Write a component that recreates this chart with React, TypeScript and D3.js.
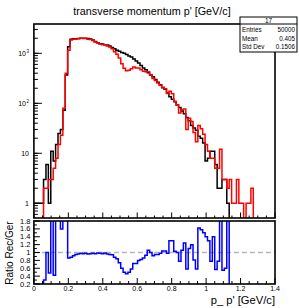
import * as d3 from 'd3';

const BIN_WIDTH = 0.014;

// generated (black) and reconstructed (red) p' spectra, 100 bins on [0, 1.4]
const gerCounts = [
  1, 1, 1, 1, 3, 6, 1, 11, 7, 15, 25, 30, 73, 370, 1350,
  1900, 1950, 1960, 1980, 1990, 2000, 2000, 1980, 1930, 1850, 1720, 1620, 1560, 1530, 1490,
  1460, 1400, 1310, 1230, 1150, 1100, 1040, 1000, 950, 880, 840, 770, 700, 640, 570,
  510, 470, 410, 370, 340, 300, 265, 235, 205, 190, 160, 135, 120, 108, 92,
  82, 70, 62, 52, 45, 36, 32, 29, 22, 20, 16, 7, 8, 11, 11,
  6, 2, 2, 3, 3, 1,
  0, 0, 0, 0, 0, 0, 0, 0, 0, 0, 0, 0, 0, 0, 0, 0, 0, 0, 0,
];

const recCounts = [
  0, 0, 0, 0, 2, 2, 3, 3, 5, 8, 15, 23, 80, 400, 1150,
  1850, 1900, 1930, 1950, 1990, 1980, 1980, 1900, 1880, 1800, 1680, 1600, 1530, 1480, 1480,
  1400, 1330, 1230, 1080, 960, 810, 620, 500, 450, 460, 490, 530, 510, 510, 470,
  440, 430, 430, 370, 315, 285, 255, 230, 210, 195, 157, 175, 155, 110, 92,
  64, 74, 77, 30, 50, 43, 26, 17, 36, 31, 24, 15, 11, 8, 8,
  5, 5, 12, 3, 3, 2, 3, 1, 1, 3, 1, 1, 0, 1, 1, 2,
  0, 0, 0, 0, 0, 0, 0, 0, 0,
];

// Rec/Ger ratio as drawn in the lower pad
const ratioValues = [
  0, 0, 0, 0, 0.3, 1.0, 0.48, 2.5, 0.42, 2.5, 2.5, 1.6, 2.5, 2.5,
  0.86, 0.88, 0.92, 0.95, 0.96, 0.98, 0.97, 0.98, 0.96, 0.97, 0.98, 0.97, 0.99, 0.98, 0.97, 0.99,
  0.96, 0.95, 0.94, 0.88, 0.84, 0.74, 0.6, 0.5, 0.46, 0.5, 0.58, 0.72, 0.72, 0.8, 0.82, 0.86, 0.93,
  1.06, 1.0, 0.92, 0.95, 0.95, 0.98, 1.04, 1.04, 0.98, 1.3, 1.3, 1.03, 1.0, 0.78, 1.06, 1.24, 0.58, 1.1, 1.2, 0.81, 0.58,
  1.62, 1.58, 1.5, 1.4, 1.3, 0.78, 1.4, 0.57, 0.78, 2.5, 0.55, 0.6, 2.5,
  0, 0, 0, 0, 0, 0, 0, 0, 0, 0, 0, 0, 0, 0, 0, 0, 0, 0, 0,
];

const xTicks = [0, 0.2, 0.4, 0.6, 0.8, 1, 1.2, 1.4];
const xTickLabels = ['0', '0.2', '0.4', '0.6', '0.8', '1', '1.2', '1.4'];
const logDecades = [1, 10, 100, 1000];
const logBases = ['1', '10', '10', '10'];
const logExps = ['', '', '2', '3'];
const ratioTicks = [0.2, 0.4, 0.6, 0.8, 1, 1.2, 1.4, 1.6, 1.8];
const ratioTickLabels = ['0.2', '0.4', '0.6', '0.8', '1', '1.2', '1.4', '1.6', '1.8'];
const statNames = ['Entries', 'Mean', 'Std Dev'];
const statValues = ['50000', '0.405', '0.1506'];

const FONT = 'Liberation Sans, Arial, sans-serif';

export default function App() {
  const left = 33.9;
  const right = 275;
  const x = d3.scaleLinear().domain([0, 1.4]).range([left, right]);
  const yLog = d3.scaleLog().domain([0.508, 3855]).range([218, 24]);
  const yRatio = d3.scaleLinear().domain([0.2, 1.8]).range([284, 221]);

  const line = d3.line();
  const stepPath = (vals: number[], yFn: (v: number) => number) => {
    const pts: [number, number][] = [];
    vals.forEach((v, i) => {
      const y = yFn(v);
      pts.push([x(i * BIN_WIDTH), y], [x((i + 1) * BIN_WIDTH), y]);
    });
    return line(pts);
  };
  const logY = (v: number) => (v > 0 ? yLog(v) : 235);
  const ratioY = (v: number) => (v > 0 ? yRatio(Math.min(v, 2.3)) : 295);

  const isMajor = (t: number) => Math.abs(t / 0.2 - Math.round(t / 0.2)) < 0.01;
  const xMinor = d3.range(0, 1.4001, 0.05);
  const logMinor = yLog.ticks().filter(t => t >= 0.508 && t <= 3855);
  const ratioMinor = d3.range(0.2, 1.8001, 0.1);

  return (
    <svg
      width={299}
      height={308}
      style={{ position: 'absolute', left: 0, top: 0, background: '#fff' }}
      fontFamily={FONT}
    >
      <defs>
        <clipPath id="clipTop">
          <rect x={left} y={24} width={right - left} height={194} />
        </clipPath>
        <clipPath id="clipLow">
          <rect x={left} y={221} width={right - left} height={63} />
        </clipPath>
      </defs>

      <text x={152} y={15} textAnchor="middle" fontSize={10.8} fill="#000">
        transverse momentum p' [GeV/c]
      </text>

      {/* upper pad */}
      <g clipPath="url(#clipTop)" fill="none" strokeWidth={1.5}>
        <path d={stepPath(gerCounts, logY)} stroke="#000" />
        <path d={stepPath(recCounts, logY)} stroke="#f00" />
      </g>
      <g stroke="#000" strokeWidth={1}>
        {xMinor.map((t, i) => (
          <line key={'xm' + i} x1={x(t)} x2={x(t)} y1={218} y2={isMajor(t) ? 212.5 : 215.5} />
        ))}
        {logMinor.map((t, i) => (
          <line key={'lm' + i} x1={left} x2={left + 4} y1={yLog(t)} y2={yLog(t)} />
        ))}
        {logDecades.map((t, i) => (
          <line key={'ld' + i} x1={left} x2={left + 8} y1={yLog(t)} y2={yLog(t)} />
        ))}
      </g>
      {logDecades.map((t, i) => (
        <text key={'ll' + i} x={logExps[i] ? 26 : 29} y={yLog(t) + 2.5} textAnchor="end" fontSize={7} fill="#000">
          {logBases[i]}
          {logExps[i] && (
            <tspan x={29} dy={-3} fontSize={4.5} textAnchor="end">{logExps[i]}</tspan>
          )}
        </text>
      ))}
      {xTicks.map((t, i) => (
        <text key={'tx' + i} x={x(t)} y={220.5} textAnchor="middle" fontSize={2.5} fill="#888">
          {xTickLabels[i]}
        </text>
      ))}
      <rect x={left} y={24} width={right - left} height={194} fill="none" stroke="#000" strokeWidth={1.6} />

      {/* stats box */}
      <rect x={240} y={17} width={57} height={35} fill="#fff" stroke="#000" strokeWidth={1} />
      <line x1={240} x2={297} y1={24} y2={24} stroke="#000" strokeWidth={1} />
      <text x={268.5} y={23} textAnchor="middle" fontSize={6.5}>17</text>
      {statNames.map((s, i) => (
        <g key={'st' + i} fontSize={6.3}>
          <text x={242} y={32 + i * 8.5}>{s}</text>
          <text x={295} y={32 + i * 8.5} textAnchor="end">{statValues[i]}</text>
        </g>
      ))}

      {/* lower pad */}
      <line
        x1={left}
        x2={right}
        y1={yRatio(1)}
        y2={yRatio(1)}
        stroke="#b4b4b4"
        strokeWidth={1.5}
        strokeDasharray="5,3"
      />
      <g clipPath="url(#clipLow)" fill="none" strokeWidth={1.5}>
        <path d={stepPath(ratioValues, ratioY)} stroke="#00f" />
      </g>
      <g stroke="#000" strokeWidth={1}>
        {xMinor.map((t, i) => (
          <line key={'lx' + i} x1={x(t)} x2={x(t)} y1={284} y2={isMajor(t) ? 278 : 281} />
        ))}
        {ratioMinor.map((t, i) => (
          <line key={'ry' + i} x1={left} x2={left + (i % 2 === 0 ? 6 : 3)} y1={yRatio(t)} y2={yRatio(t)} />
        ))}
      </g>
      {ratioTicks.map((t, i) => (
        <text key={'rl' + i} x={30.5} y={yRatio(t) + 2.6} textAnchor="end" fontSize={7.5}>
          {ratioTickLabels[i]}
        </text>
      ))}
      {xTicks.map((t, i) => (
        <text key={'xl' + i} x={x(t)} y={291.3} textAnchor="middle" fontSize={7}>
          {xTickLabels[i]}
        </text>
      ))}
      <rect x={left} y={221} width={right - left} height={63} fill="none" stroke="#000" strokeWidth={1.6} />
      <text x={275} y={303.8} textAnchor="end" fontSize={11.2}>
        p_ p' [GeV/c]
      </text>
      <text transform="translate(13,253) rotate(-90)" textAnchor="middle" fontSize={10}>
        Ratio Rec/Ger
      </text>
    </svg>
  );
}
